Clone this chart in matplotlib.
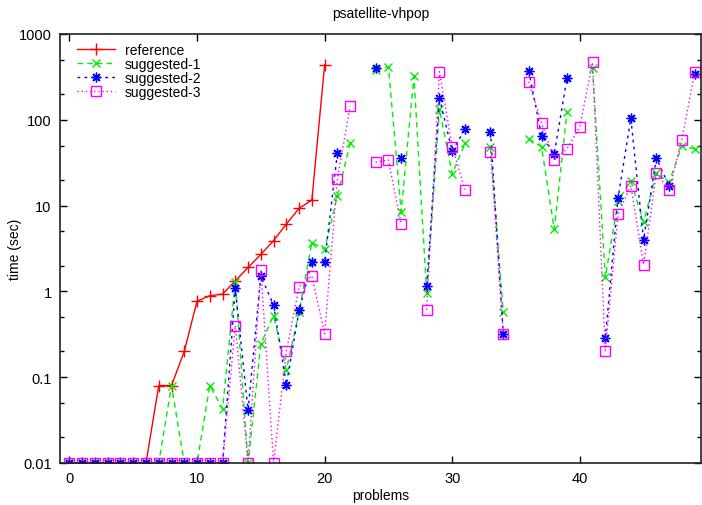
import numpy as np
import matplotlib
matplotlib.use("Agg")
from matplotlib import pyplot as plt
from matplotlib import ticker

nan = np.nan

problems = list(range(50))

reference = [0.01, 0.01, 0.01, 0.01, 0.01, 0.01, 0.01, 0.08, 0.08, 0.2,
             0.77, 0.89, 0.93, 1.33, 1.9, 2.7, 3.9, 6.1, 9.3, 11.6,
             437, nan, nan, nan, nan, nan, nan, nan, nan, nan,
             nan, nan, nan, nan, nan, nan, nan, nan, nan, nan,
             nan, nan, nan, nan, nan, nan, nan, nan, nan, nan]

suggested_1 = [0.01, 0.01, 0.01, 0.01, 0.01, 0.01, 0.01, 0.01, 0.08, 0.01,
               0.01, 0.08, 0.043, 1.3, 0.01, 0.244, 0.52, 0.122, 0.58, 3.7,
               3.1, 13, 53, nan, 380, 416, 8.5, 321, 0.96, 134,
               23.3, 53, nan, 48.6, 0.57, nan, 59.7, 48.6, 5.3, 124,
               nan, 398, 1.46, 11.4, 19.5, 6.4, 23.8, 18.6, 50, 45.7]

suggested_2 = [0.01, 0.01, 0.01, 0.01, 0.01, 0.01, 0.01, 0.01, 0.01, 0.01,
               0.01, 0.01, 0.01, 1.09, 0.041, 1.52, 0.69, 0.082, 0.6, 2.22,
               2.18, 40.7, nan, nan, 398, nan, 35.6, nan, 1.17, 179,
               43, 78, nan, 72.7, 0.32, nan, 373, 65, 40, 310,
               nan, nan, 0.284, 12.3, 104, 4.0, 35.6, 17, nan, 342]

suggested_3 = [0.01, 0.01, 0.01, 0.01, 0.01, 0.01, 0.01, 0.01, 0.01, 0.01,
               0.01, 0.01, 0.01, 0.4, 0.01, 1.79, 0.01, 0.2, 1.13, 1.52,
               0.32, 20.4, 143.6, nan, 32, 34, 6.1, nan, 0.61, 364,
               48.6, 15.3, nan, 42.6, 0.32, nan, 278, 92, 34, 45.7,
               83, 468, 0.204, 8.0, 17, 2.05, 23.8, 15.3, 58, 357]

plt.rcParams['font.family'] = ['Liberation Sans', 'DejaVu Sans']
plt.rcParams['font.size'] = 10

fig = plt.figure(figsize=(7.02, 5.06), dpi=100)
ax = fig.add_axes([60 / 702, 42 / 506, 641 / 702, 429 / 506])

ax.plot(problems, reference, color="#ff0000", linewidth=1, linestyle="-",
        marker="+", markersize=8, markeredgewidth=1, label="reference")
ax.plot(problems, suggested_1, color="#00ee00", linewidth=1, linestyle=(0, (4, 3)),
        marker="x", markersize=6, markeredgewidth=1, label="suggested-1")
ax.plot(problems, suggested_2, color="#0000ff", linewidth=1, linestyle=(0, (2, 3)),
        marker=(8, 2, 0), markersize=7, markeredgewidth=1, label="suggested-2")
ax.plot(problems, suggested_3, color="#ff00ff", linewidth=1, linestyle=(0, (1, 2)),
        marker="s", markersize=6.5, markeredgewidth=1, fillstyle="none", label="suggested-3")

ax.set_yscale("log")
ax.set_ylim(0.01, 1000)
ax.set_xlim(-0.74, 49.5)

ax.yaxis.set_major_locator(ticker.FixedLocator([0.01, 0.1, 1, 10, 100, 1000]))
ax.yaxis.set_major_formatter(ticker.FuncFormatter(lambda v, p: "%g" % v))
ax.yaxis.set_minor_locator(ticker.LogLocator(base=10, subs=(2, 5)))
ax.yaxis.set_minor_formatter(ticker.NullFormatter())
ax.xaxis.set_major_locator(ticker.FixedLocator([0, 10, 20, 30, 40]))

ax.tick_params(which="both", direction="in", top=True, right=True, labelsize=10.5)
ax.tick_params(which="major", length=5, width=1)
ax.tick_params(which="minor", length=3, width=1)
ax.tick_params(axis="x", pad=6)
ax.tick_params(axis="y", pad=6)
for s in ax.spines.values():
    s.set_linewidth(1.2)
    s.set_color("#222222")

ax.set_title("psatellite-vhpop", fontsize=10, pad=12)
ax.set_xlabel("problems", labelpad=2)
ax.set_ylabel("time (sec)")
ax.yaxis.set_label_coords(-0.059, 0.5)

ax.legend(loc="upper left", bbox_to_anchor=(17 / 641, 1 - 8.8 / 429), frameon=False,
          handlelength=2.75, handletextpad=0.7, labelspacing=0.0,
          borderaxespad=0, borderpad=0, fontsize=10)

fig.savefig("out.png", dpi=100)
